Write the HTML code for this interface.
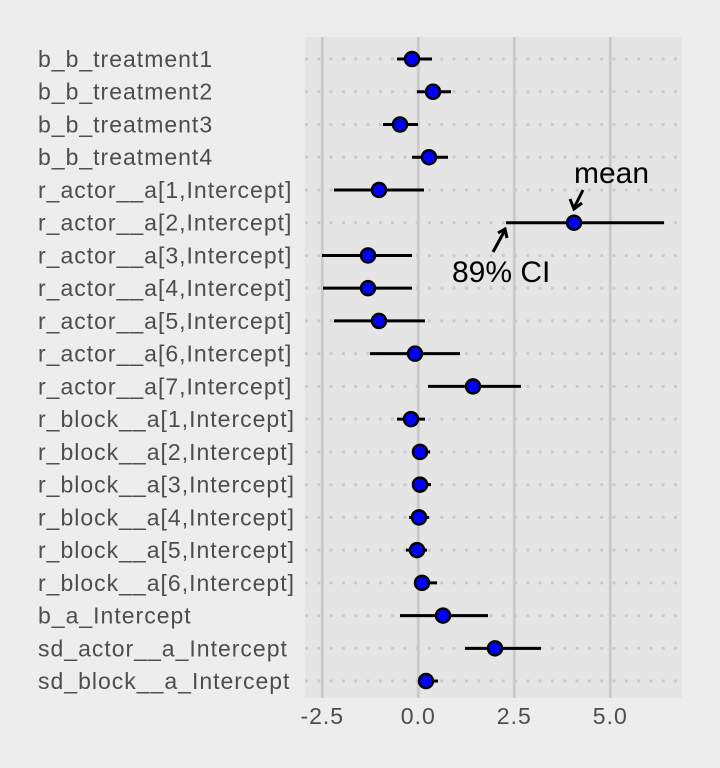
<!DOCTYPE html>
<html><head><meta charset="utf-8"><style>
html,body{margin:0;padding:0;background:#ededed;}
svg{display:block;}
.lab{font-family:"Liberation Sans",sans-serif;font-size:23px;letter-spacing:1px;fill:#4d4d4d;}
.ann{font-family:"Liberation Sans",sans-serif;font-size:30px;fill:#000;}
</style></head><body>
<svg width="720" height="768" viewBox="0 0 720 768" xmlns="http://www.w3.org/2000/svg">
<rect x="0" y="0" width="720" height="768" fill="#ededed"/>
<rect x="305" y="37" width="377" height="661" fill="#e5e5e5"/>
<g stroke="#cacaca" stroke-width="3">
<line x1="322.3" y1="37" x2="322.3" y2="698"/>
<line x1="418.3" y1="37" x2="418.3" y2="698"/>
<line x1="514.3" y1="37" x2="514.3" y2="698"/>
<line x1="610.3" y1="37" x2="610.3" y2="698"/>
</g>
<g id="rows" stroke="#cacaca" stroke-width="3" stroke-dasharray="3 9.3">
</g>
<g id="lbl"></g>
<g id="pts"></g>
<g class="lab" text-anchor="middle">
<text x="322.3" y="724">-2.5</text>
<text x="418.3" y="724">0.0</text>
<text x="514.3" y="724">2.5</text>
<text x="610.3" y="724">5.0</text>
</g>
<text class="ann" x="574" y="183">mean</text>
<text class="ann" x="452" y="282">89% CI</text>
<g stroke="#000" stroke-width="3" fill="none">
<line x1="583" y1="190" x2="574" y2="208"/>
<polyline points="570,199 574,209 582,203"/>
<line x1="493" y1="252" x2="505" y2="230"/>
<polyline points="498,233 505,229 507,238"/>
</g>
</svg>
<script>
var names=["b_b_treatment1","b_b_treatment2","b_b_treatment3","b_b_treatment4","r_actor__a[1,Intercept]","r_actor__a[2,Intercept]","r_actor__a[3,Intercept]","r_actor__a[4,Intercept]","r_actor__a[5,Intercept]","r_actor__a[6,Intercept]","r_actor__a[7,Intercept]","r_block__a[1,Intercept]","r_block__a[2,Intercept]","r_block__a[3,Intercept]","r_block__a[4,Intercept]","r_block__a[5,Intercept]","r_block__a[6,Intercept]","b_a_Intercept","sd_actor__a_Intercept","sd_block__a_Intercept"];
var d=[[412,397,432],[433,417,451],[400,383,418],[429,412,448],[379,334,424],[574,506,664],[368,322,412],[368,323,412],[379,334,425],[415,370,460],[473,428,521],[411,397,425],[420,413,430],[420,413,431],[419,409,429],[417,406,427],[422,416,437],[443,400,488],[495,465,541],[426,420,438]];
var ns="http://www.w3.org/2000/svg";
function el(t,a,p){var e=document.createElementNS(ns,t);for(var k in a)e.setAttribute(k,a[k]);p.appendChild(e);return e;}
var rows=document.getElementById("rows"),lbl=document.getElementById("lbl"),pts=document.getElementById("pts");
for(var i=0;i<20;i++){var y=59+i*32.74;
el("line",{x1:305,y1:y,x2:682,y2:y},rows);
var t=el("text",{x:38,y:y+8,"class":"lab"},lbl);t.textContent=names[i];
el("line",{x1:d[i][1],y1:y,x2:d[i][2],y2:y,stroke:"#000","stroke-width":3},pts);
el("circle",{cx:d[i][0],cy:y,r:7,fill:"#0000ff",stroke:"#000","stroke-width":2.5},pts);}
</script>
</body></html>
